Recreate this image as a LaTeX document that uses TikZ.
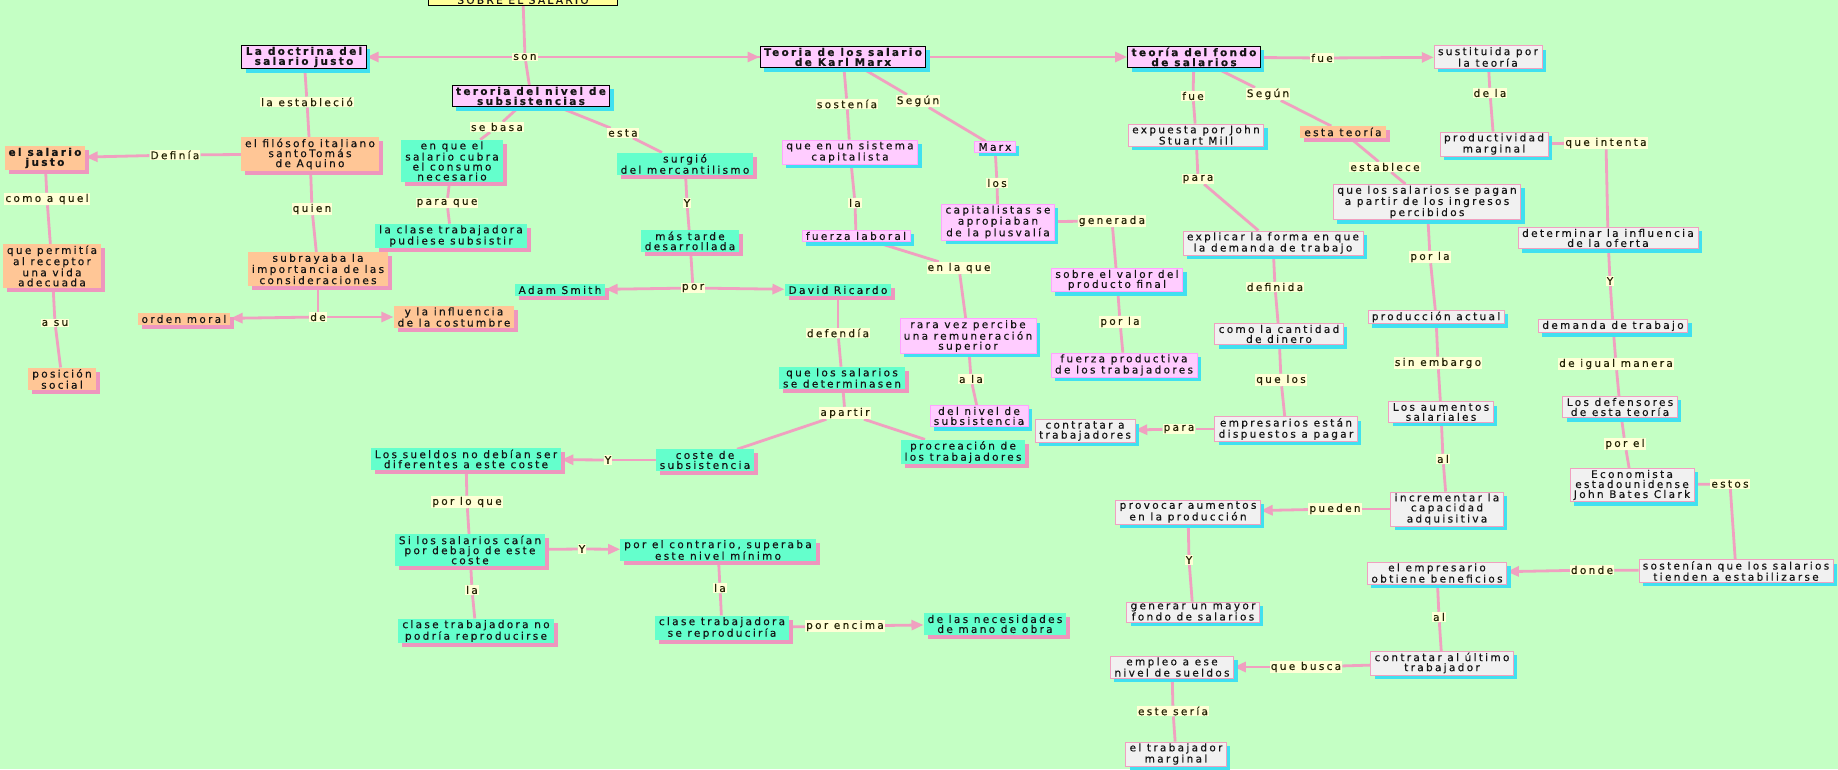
\documentclass[tikz,border=0pt]{standalone}
\usepackage{fontspec}
\newfontfamily\mapfont[LetterSpace=22, FakeBold=0.4]{DejaVu Sans}
\usetikzlibrary{shapes,arrows.meta,positioning,shadows}
\usepackage{xcolor}
\definecolor{mapbg}{RGB}{196,255,196}
\definecolor{pinknode}{RGB}{255,204,255}
\definecolor{cyanshad}{RGB}{64,224,240}
\definecolor{peach}{RGB}{255,198,150}
\definecolor{pinkshad}{RGB}{238,150,190}
\definecolor{aqua}{RGB}{100,255,204}
\definecolor{greynode}{RGB}{241,241,241}
\definecolor{connpink}{RGB}{240,160,192}
\definecolor{linkbg}{RGB}{255,255,214}
\definecolor{maptext}{RGB}{20,20,20}
\definecolor{linktext}{RGB}{35,35,5}
\definecolor{topyellow}{RGB}{255,255,153}
\pgfdeclarelayer{bg}
\pgfsetlayers{bg,main}

\begin{document}
\begin{tikzpicture}[
        x=1pt, y=-1pt,
        concept/.style={rectangle, align=center, font={\fontsize{10.5pt}{10pt}\mapfont}, inner xsep=4pt, inner ysep=1.5pt, text=maptext},
        cyanbox/.style={concept, drop shadow={shadow xshift=4pt, shadow yshift=-4pt, fill=cyanshad, opacity=1}},
        pinkbox/.style={concept, drop shadow={shadow xshift=4pt, shadow yshift=-4pt, fill=pinkshad, opacity=1}},
        theory/.style={cyanbox, fill=pinknode, draw=black, line width=1pt, font={\fontsize{10.5pt}{10pt}\mapfont\bfseries}},
        marxbox/.style={cyanbox, fill=pinknode, draw=pinknode!80!magenta, line width=0.5pt},
        greybox/.style={cyanbox, fill=greynode, draw=connpink, line width=0.6pt},
        peachbox/.style={pinkbox, fill=peach},
        aquabox/.style={pinkbox, fill=aqua},
        link/.style={rectangle, fill=linkbg, inner sep=1pt, font={\fontsize{10.5pt}{10pt}\mapfont}, text=linktext},
        conn/.style={draw=connpink, line width=2.8pt},
        arr/.style={conn, -{Triangle[length=12pt, width=10pt]}}
    ]
    \useasboundingbox (0,0) rectangle (1838,769);
    \clip (0,0) rectangle (1838,769);

    % top of the map
    \node[concept, fill=topyellow, draw=black, line width=1pt, minimum width=189pt, anchor=south] (top) at (523,6) {SOBRE EL SALARIO};
    \node[link] (son) at (525,57) {son};
    \node[theory] (doctrina) at (304,57) {La doctrina del\\salario justo};
    \node[theory] (nivel) at (531,96) {teroria del nivel de\\subsistencias};
    \node[theory] (marx) at (843,57) {Teoria de los salario\\de Karl Marx};
    \node[theory] (fondo) at (1194,57) {teoría del fondo\\de salarios};

    % salario justo
    \node[link] (establecio) at (307,102) {la estableció};
    \node[peachbox] (filosofo) at (310,154) {el filósofo italiano\\santoTomás\\de Aquino};
    \node[link] (definia) at (175,155) {Definía};
    \node[peachbox, font={\fontsize{10.5pt}{10pt}\mapfont\bfseries}] (justo) at (45,158) {el salario\\justo};
    \node[link] (comoaquel) at (47,199) {como a quel};
    \node[peachbox] (permitia) at (52,266) {que permitía\\al receptor\\una vida\\adecuada};
    \node[link] (asu) at (55,323) {a su};
    \node[peachbox] (posicion) at (62,379) {posición\\social};
    \node[link] (quien) at (312,209) {quien};
    \node[peachbox] (subrayaba) at (318,269) {subrayaba la\\importancia de las\\consideraciones};
    \node[link] (de) at (318,317) {de};
    \node[peachbox] (moral) at (184,319) {orden moral};
    \node[peachbox] (costumbre) at (454,317) {y la influencia\\de la costumbre};

    % nivel de subsistencia
    \node[link] (sebasa) at (497,127) {se basa};
    \node[aquabox] (cubra) at (452,161) {en que el\\salario cubra\\el consumo\\necesario};
    \node[link] (paraque) at (447,203) {para que};
    \node[aquabox] (subsistir) at (451,236) {la clase trabajadora\\pudiese subsistir};
    \node[link] (esta) at (623,133) {esta};
    \node[aquabox] (mercant) at (685,164) {surgió\\del mercantilismo};
    \node[link] (y1) at (687,203) {Y};
    \node[aquabox] (tarde) at (690,241) {más tarde\\desarrollada};
    \node[link] (por) at (693,288) {por};
    \node[aquabox] (smith) at (560,290) {Adam Smith};
    \node[aquabox] (ricardo) at (838,290) {David Ricardo};
    \node[link] (defendia) at (838,333) {defendía};
    \node[aquabox] (determin) at (842,378) {que los salarios\\se determinasen};
    \node[link] (apartir) at (845,413) {apartir};
    \node[aquabox] (coste) at (705,460) {coste de\\subsistencia};
    \node[aquabox] (procrea) at (963,452) {procreación de\\los trabajadores};
    \node[link] (y2) at (608,460) {Y};
    \node[aquabox] (sueldos) at (466,459) {Los sueldos no debían ser\\diferentes a este coste};
    \node[link] (porloque) at (467,502) {por lo que};
    \node[aquabox] (caian) at (470,550) {Si los salarios caían\\por debajo de este\\coste};
    \node[link] (y3) at (582,549) {Y};
    \node[aquabox] (contrario) at (718,550) {por el contrario, superaba\\este nivel mínimo};
    \node[link] (la1) at (472,590) {la};
    \node[aquabox] (noreprod) at (476,631) {clase trabajadora no\\podría reproducirse};
    \node[link] (la2) at (720,588) {la};
    \node[aquabox] (reprod) at (722,628) {clase trabajadora\\se reproduciría};
    \node[link] (encima) at (845,626) {por encima};
    \node[aquabox] (necesid) at (995,624) {de las necesidades\\de mano de obra};

    % Karl Marx
    \node[link] (sostenia) at (847,104) {sostenía};
    \node[marxbox] (sistema) at (850,152) {que en un sistema\\capitalista};
    \node[link] (la3) at (855,203) {la};
    \node[marxbox] (laboral) at (856,236) {fuerza laboral};
    \node[link] (enlaque) at (959,268) {en la que};
    \node[marxbox] (rara) at (968,336) {rara vez percibe\\una remuneración\\superior};
    \node[link] (ala) at (971,379) {a la};
    \node[marxbox] (nivelsub) at (979,416) {del nivel de\\subsistencia};
    \node[link] (segun1) at (918,101) {Según};
    \node[marxbox] (marxb) at (995,147) {Marx};
    \node[link] (los) at (997,183) {los};
    \node[marxbox] (plusvalia) at (998,222) {capitalistas se\\apropiaban\\de la plusvalía};
    \node[link] (generada) at (1112,221) {generada};
    \node[marxbox] (valor) at (1117,280) {sobre el valor del\\producto final};
    \node[link] (porla1) at (1120,322) {por la};
    \node[marxbox] (productiva) at (1124,365) {fuerza productiva\\de los trabajadores};

    % fondo de salarios
    \node[link] (fue1) at (1322,58) {fue};
    \node[greybox] (sustituida) at (1488,57) {sustituida por\\la teoría};
    \node[link] (dela) at (1490,93) {de la};
    \node[greybox] (productividad) at (1494,144) {productividad\\marginal};
    \node[link] (intenta) at (1606,143) {que intenta};
    \node[greybox] (oferta) at (1608,238) {determinar la influencia\\de la oferta};
    \node[link] (y4) at (1610,281) {Y};
    \node[greybox] (demanda) at (1613,326) {demanda de trabajo};
    \node[link] (igual) at (1616,364) {de igual manera};
    \node[greybox] (defensores) at (1620,407) {Los defensores\\de esta teoría};
    \node[link] (porel) at (1625,444) {por el};
    \node[greybox] (clark) at (1632,485) {Economista\\estadounidense\\John Bates Clark};
    \node[link] (estos) at (1730,484) {estos};
    \node[greybox] (estabil) at (1736,571) {sostenían que los salarios\\tienden a estabilizarse};
    \node[link] (donde) at (1592,570) {donde};
    \node[greybox] (benef) at (1437,573) {el empresario\\obtiene beneficios};
    \node[link] (al2) at (1439,617) {al};
    \node[greybox] (ultimo) at (1442,663) {contratar al último\\trabajador};
    \node[link] (busca) at (1306,667) {que busca};
    \node[greybox] (empleo) at (1172,667) {empleo a ese\\nivel de sueldos};
    \node[link] (seria) at (1173,711) {este sería};
    \node[greybox] (marginal) at (1176,754) {el trabajador\\marginal};
    \node[link] (fue2) at (1193,96) {fue};
    \node[greybox] (mill) at (1196,135) {expuesta por John\\Stuart Mill};
    \node[link] (para1) at (1198,179) {para};
    \node[greybox] (explicar) at (1273,243) {explicar la forma en que\\la demanda de trabajo};
    \node[link] (definida) at (1275,287) {definida};
    \node[greybox] (cantidad) at (1279,334) {como la cantidad\\de dinero};
    \node[link] (quelos) at (1281,380) {que los};
    \node[greybox] (empresarios) at (1286,429) {empresarios están\\dispuestos a pagar};
    \node[link] (para2) at (1179,429) {para};
    \node[greybox] (contratar) at (1085,431) {contratar a\\trabajadores};
    \node[link] (segun2) at (1268,94) {Según};
    \node[peachbox] (estateoria) at (1343,132) {esta teoría};
    \node[link] (establece) at (1385,167) {establece};
    \node[greybox] (pagan) at (1427,202) {que los salarios se pagan\\a partir de los ingresos\\percibidos};
    \node[link] (porla2) at (1430,257) {por la};
    \node[greybox] (actual) at (1436,317) {producción actual};
    \node[link] (sinemb) at (1438,363) {sin embargo};
    \node[greybox] (aumentos) at (1441,412) {Los aumentos\\salariales};
    \node[link] (al1) at (1443,459) {al};
    \node[greybox] (increm) at (1447,509) {incrementar la\\capacidad\\adquisitiva};
    \node[link] (pueden) at (1335,509) {pueden};
    \node[greybox] (provocar) at (1188,512) {provocar aumentos\\en la producción};
    \node[link] (y5) at (1189,560) {Y};
    \node[greybox] (mayor) at (1193,612) {generar un mayor\\fondo de salarios};

    \begin{pgfonlayer}{bg}
    \fill[mapbg] (0,0) rectangle (1838,769);
    \draw[conn] (top) -- (son);
    \draw[arr] (son) -- (doctrina);
    \draw[conn] (son) -- (nivel);
    \draw[arr] (son) -- (marx);
    \draw[arr] (son) -- (fondo);

    \draw[conn] (doctrina) -- (establecio);
    \draw[conn] (establecio) -- (filosofo);
    \draw[conn] (filosofo) -- (definia);
    \draw[arr] (definia) -- (justo);
    \draw[conn] (justo) -- (comoaquel);
    \draw[conn] (comoaquel) -- (permitia);
    \draw[conn] (permitia) -- (asu);
    \draw[conn] (asu) -- (posicion);
    \draw[conn] (filosofo) -- (quien);
    \draw[conn] (quien) -- (subrayaba);
    \draw[conn] (subrayaba) -- (de);
    \draw[arr] (de) -- (moral);
    \draw[arr] (de) -- (costumbre);

    \draw[conn] (nivel) -- (sebasa);
    \draw[conn] (sebasa) -- (cubra);
    \draw[conn] (cubra) -- (paraque);
    \draw[conn] (paraque) -- (subsistir);
    \draw[conn] (nivel) -- (esta);
    \draw[conn] (esta) -- (mercant);
    \draw[conn] (mercant) -- (y1);
    \draw[conn] (y1) -- (tarde);
    \draw[conn] (tarde) -- (por);
    \draw[arr] (por) -- (smith);
    \draw[arr] (por) -- (ricardo);
    \draw[conn] (ricardo) -- (defendia);
    \draw[conn] (defendia) -- (determin);
    \draw[conn] (determin) -- (apartir);
    \draw[conn] (apartir) -- (coste);
    \draw[conn] (apartir) -- (procrea);
    \draw[conn] (coste) -- (y2);
    \draw[arr] (y2) -- (sueldos);
    \draw[conn] (sueldos) -- (porloque);
    \draw[conn] (porloque) -- (caian);
    \draw[conn] (caian) -- (y3);
    \draw[arr] (y3) -- (contrario);
    \draw[conn] (caian) -- (la1);
    \draw[conn] (la1) -- (noreprod);
    \draw[conn] (contrario) -- (la2);
    \draw[conn] (la2) -- (reprod);
    \draw[conn] (reprod) -- (encima);
    \draw[arr] (encima) -- (necesid);

    \draw[conn] (marx) -- (sostenia);
    \draw[conn] (sostenia) -- (sistema);
    \draw[conn] (sistema) -- (la3);
    \draw[conn] (la3) -- (laboral);
    \draw[conn] (laboral) -- (enlaque);
    \draw[conn] (enlaque) -- (rara);
    \draw[conn] (rara) -- (ala);
    \draw[conn] (ala) -- (nivelsub);
    \draw[conn] (marx) -- (segun1);
    \draw[conn] (segun1) -- (marxb);
    \draw[conn] (marxb) -- (los);
    \draw[conn] (los) -- (plusvalia);
    \draw[conn] (plusvalia) -- (generada);
    \draw[conn] (generada) -- (valor);
    \draw[conn] (valor) -- (porla1);
    \draw[conn] (porla1) -- (productiva);

    \draw[conn] (fondo) -- (fue1);
    \draw[arr] (fue1) -- (sustituida);
    \draw[conn] (sustituida) -- (dela);
    \draw[conn] (dela) -- (productividad);
    \draw[conn] (productividad) -- (intenta);
    \draw[conn] (intenta) -- (oferta);
    \draw[conn] (oferta) -- (y4);
    \draw[conn] (y4) -- (demanda);
    \draw[conn] (demanda) -- (igual);
    \draw[conn] (igual) -- (defensores);
    \draw[conn] (defensores) -- (porel);
    \draw[conn] (porel) -- (clark);
    \draw[conn] (clark) -- (estos);
    \draw[conn] (estos) -- (estabil);
    \draw[conn] (estabil) -- (donde);
    \draw[arr] (donde) -- (benef);
    \draw[conn] (benef) -- (al2);
    \draw[conn] (al2) -- (ultimo);
    \draw[conn] (ultimo) -- (busca);
    \draw[arr] (busca) -- (empleo);
    \draw[conn] (empleo) -- (seria);
    \draw[conn] (seria) -- (marginal);
    \draw[conn] (fondo) -- (fue2);
    \draw[conn] (fue2) -- (mill);
    \draw[conn] (mill) -- (para1);
    \draw[conn] (para1) -- (explicar);
    \draw[conn] (explicar) -- (definida);
    \draw[conn] (definida) -- (cantidad);
    \draw[conn] (cantidad) -- (quelos);
    \draw[conn] (quelos) -- (empresarios);
    \draw[conn] (empresarios) -- (para2);
    \draw[arr] (para2) -- (contratar);
    \draw[conn] (fondo) -- (segun2);
    \draw[conn] (segun2) -- (estateoria);
    \draw[conn] (estateoria) -- (establece);
    \draw[conn] (establece) -- (pagan);
    \draw[conn] (pagan) -- (porla2);
    \draw[conn] (porla2) -- (actual);
    \draw[conn] (actual) -- (sinemb);
    \draw[conn] (sinemb) -- (aumentos);
    \draw[conn] (aumentos) -- (al1);
    \draw[conn] (al1) -- (increm);
    \draw[conn] (increm) -- (pueden);
    \draw[arr] (pueden) -- (provocar);
    \draw[conn] (provocar) -- (y5);
    \draw[conn] (y5) -- (mayor);
    \end{pgfonlayer}

\end{tikzpicture}
\end{document}
